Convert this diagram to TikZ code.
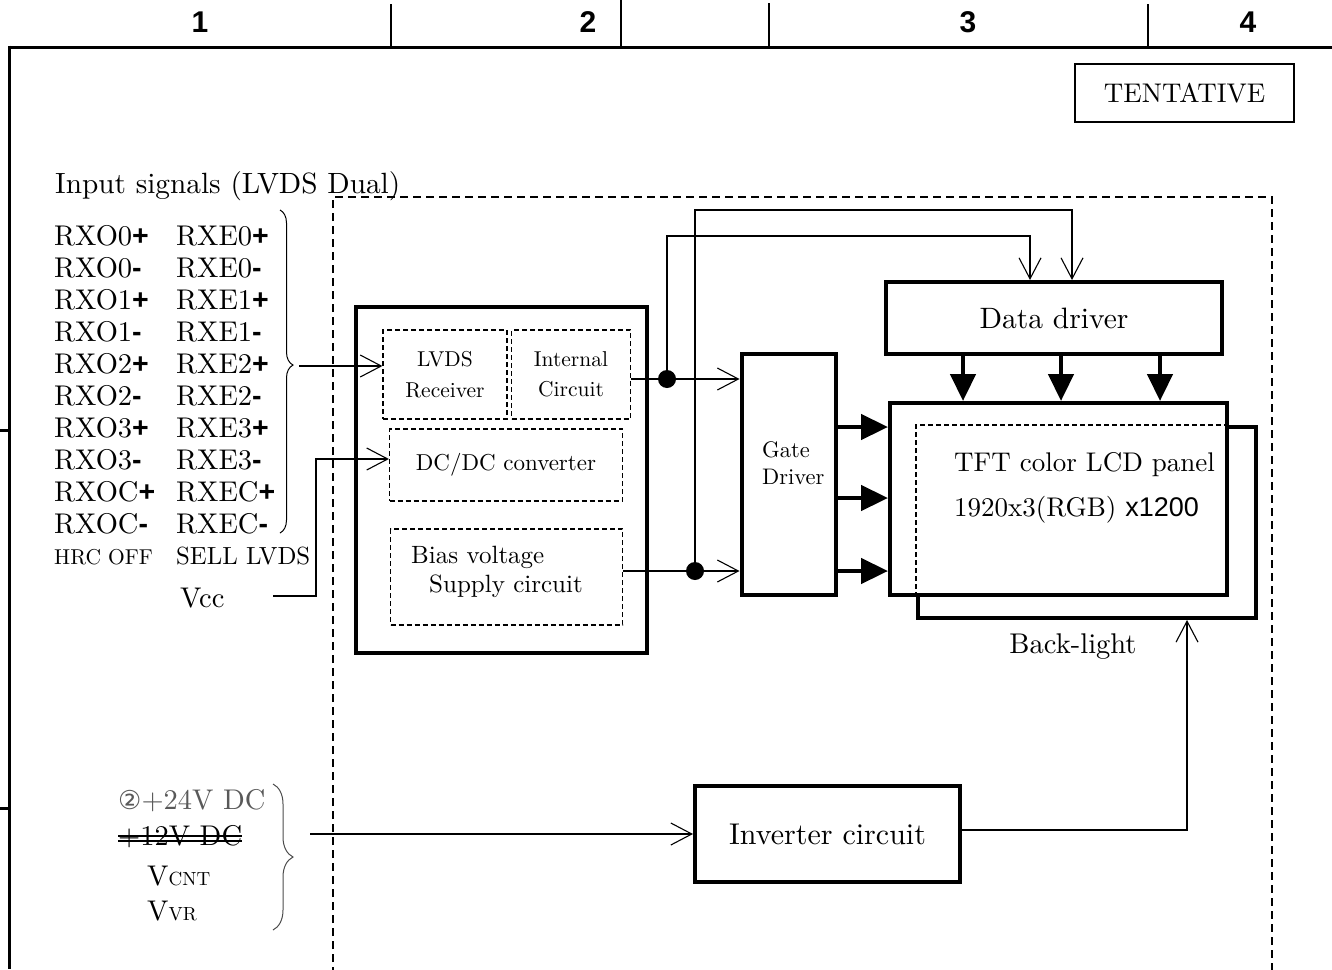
\documentclass[tikz,border=0pt]{standalone}
\usepackage{fontspec}
\setmainfont{lmroman10-regular.otf}[BoldFont=lmroman10-bold.otf, ItalicFont=lmroman10-italic.otf]
\newfontfamily\arial{Liberation Sans}
\newfontfamily\dejavu{DejaVu Sans}
\usetikzlibrary{arrows.meta,decorations.pathreplacing,calc}
\newcommand{\pp}{{\arial\bfseries +}}
\newcommand{\mm}{{\arial\bfseries -}}
\newcommand{\fs}[1]{\fontsize{#1}{#1}\selectfont}
\tikzset{
  sig/.style={anchor=base west, inner sep=0pt, font=\fs{28.5}},
  thickbox/.style={draw, line width=4pt, inner sep=0pt},
  dbox/.style={draw, line width=1.2pt, dash pattern=on 5pt off 3pt, inner sep=0pt},
  oarrow/.style={line width=1.1pt, -{Straight Barb[length=21pt,width=22pt]}},
  bigarrow/.style={line width=4.5pt, -{Triangle[length=27pt,width=25pt]}},
  wire/.style={line width=1.1pt},
  hdr/.style={font=\arial\bfseries\fs{30}, inner sep=0pt},
}
\begin{document}
\begin{tikzpicture}[x=1pt,y=-1pt]
\useasboundingbox (0,0) rectangle (1332,969);
% frame and header
\draw[line width=3pt] (8,47) -- (1332,47);
\draw[line width=3pt] (9,45.5) -- (9,969);
\draw[line width=3pt] (0,430) -- (9,430);
\draw[line width=3pt] (0,808) -- (9,808);
\draw[line width=2pt] (391,4) -- (391,47);
\draw[line width=2pt] (621,0) -- (621,47);
\draw[line width=2pt] (769,3) -- (769,47);
\draw[line width=2pt] (1148,4) -- (1148,47);
\node[hdr] (h1) at (200,22) {1};
\node[hdr] (h2) at (588,22) {2};
\node[hdr] (h3) at (968,22) {3};
\node[hdr] (h4) at (1248,22) {4};
% tentative
\node[draw, line width=1.6pt, minimum width=219pt, minimum height=58pt, font=\fs{27}] (tent) at (1184.5,93) {TENTATIVE};
% outer dashed
\draw[line width=1.6pt, dash pattern=on 8pt off 5pt] (333,975) -- (333,197) -- (1272,197) -- (1272,975);
% input signals
\node[sig, font=\fs{29.3}] (title) at (55,193) {Input signals (LVDS Dual)};
\node[sig] (o0p) at (54,245) {RXO0\pp};
\node[sig] (o0m) at (54,277) {RXO0\mm};
\node[sig] (o1p) at (54,309) {RXO1\pp};
\node[sig] (o1m) at (54,341) {RXO1\mm};
\node[sig] (o2p) at (54,373) {RXO2\pp};
\node[sig] (o2m) at (54,405) {RXO2\mm};
\node[sig] (o3p) at (54,437) {RXO3\pp};
\node[sig] (o3m) at (54,469) {RXO3\mm};
\node[sig] (ocp) at (54,501) {RXOC\pp};
\node[sig] (ocm) at (54,533) {RXOC\mm};
\node[sig] (e0p) at (176,245) {RXE0\pp};
\node[sig] (e0m) at (176,277) {RXE0\mm};
\node[sig] (e1p) at (176,309) {RXE1\pp};
\node[sig] (e1m) at (176,341) {RXE1\mm};
\node[sig] (e2p) at (176,373) {RXE2\pp};
\node[sig] (e2m) at (176,405) {RXE2\mm};
\node[sig] (e3p) at (176,437) {RXE3\pp};
\node[sig] (e3m) at (176,469) {RXE3\mm};
\node[sig] (ecp) at (176,501) {RXEC\pp};
\node[sig] (ecm) at (176,533) {RXEC\mm};
\node[sig, font=\fs{21.5}] (hrc) at (54,564) {HRC OFF};
\node[sig, font=\fs{24.8}] (sell) at (176,564) {SELL LVDS};
\node[sig] (vcc) at (180,607) {Vcc};
\draw[line width=1pt, decorate, decoration={brace, amplitude=13pt, aspect=0.48}] (280,210) -- (280,533);
\coordinate (sigtip) at (299,366);
\coordinate (vccend) at (273,596);
% main block
\node[thickbox, minimum width=291pt, minimum height=346pt] (main) at (501.5,480) {};
\node[dbox, minimum width=124pt, minimum height=89pt, align=center, font=\fontsize{21.5}{31}\selectfont] (lvds) at (445,374.5) {LVDS\\Receiver};
\node[dbox, minimum width=119pt, minimum height=89pt, align=center, font=\fontsize{21.5}{30}\selectfont] (intc) at (571,374.5) {Internal\\Circuit};
\node[dbox, minimum width=233pt, minimum height=72pt, font=\fs{23}] (dcdc) at (506,465) {DC/DC converter};
\node[dbox, minimum width=232pt, minimum height=96pt] (bias) at (506.5,577) {};
\node[sig, font=\fs{25}] (biasA) at (411,563) {Bias voltage};
\node[sig, font=\fs{25}] (biasB) at (429,592) {Supply circuit};
% gate driver
\node[thickbox, minimum width=94pt, minimum height=241pt] (gate) at (788.5,474.5) {};
\node[anchor=west, align=left, inner sep=0pt, font=\fontsize{22.5}{27}\selectfont] (gtxt) at (762,463) {Gate\\Driver};
% data driver
\node[thickbox, minimum width=336pt, minimum height=72pt, font=\fs{29.5}] (data) at (1054,318) {Data driver};
% back-light and panel
\node[thickbox, minimum width=338pt, minimum height=191pt] (back) at (1087,522.5) {};
\node[thickbox, fill=white, minimum width=337pt, minimum height=192pt] (panel) at (1058.5,499) {};
\draw[line width=1.2pt, dash pattern=on 5pt off 3pt] (back.west |- panel.south) -- (back.north west) -- (back.north west -| panel.east);
\node[sig, font=\fs{27}] (tft) at (954,471) {TFT color LCD panel};
\node[sig, font=\fs{27}] (res) at (954,516) {1920x3(RGB) {\arial x1200}};
\node[font=\fs{28.5}, inner sep=0pt] (bl) at (1073,647) {Back-light};
% inverter
\node[thickbox, minimum width=265pt, minimum height=96pt, font=\fs{30}] (inv) at (827.5,834) {Inverter circuit};
% power inputs
\node[sig, text=black!65] (p24) at (118,809) {{\dejavu\fs{26}②}+24V DC};
\node[sig] (p12) at (118,845) {+12V DC};
\draw[line width=1.3pt] (p12.west |- 0,836) -- (p12.east |- 0,836);
\draw[line width=1.3pt] (p12.west |- 0,841) -- (p12.east |- 0,841);
\node[sig] (vcnt) at (147,885) {V{\fs{19}CNT}};
\node[sig] (vvr) at (147,920) {V{\fs{19}VR}};
\draw[line width=1pt, draw=black!70, decorate, decoration={brace, amplitude=20pt, aspect=0.5}] (273,784) -- (273,930);
\coordinate (pwr) at (310,834);
% connectors
\draw[oarrow] (sigtip) -- (sigtip -| lvds.west);
\draw[oarrow] (vccend) -- (316,596) -- (316,459) -- (dcdc.west |- 0,459);
\coordinate (d1) at (667,379);
\coordinate (d2) at (695,571);
\draw[wire] (intc.east |- d1) -- (d1);
\draw[oarrow] (d1) -- (gate.west |- d1);
\draw[oarrow] (d1) -- (667,236) -- (1030,236) -- (data.north -| 1030,0);
\draw[wire] (bias.east |- d2) -- (d2);
\draw[oarrow] (d2) -- (gate.west |- d2);
\draw[oarrow] (d2) -- (695,210) -- (1072,210) -- (data.north -| 1072,0);
\fill (d1) circle (9pt);
\fill (d2) circle (9pt);
\draw[bigarrow] (gate.east |- 0,427) -- (panel.west |- 0,427);
\draw[bigarrow] (gate.east |- 0,498) -- (panel.west |- 0,498);
\draw[bigarrow] (gate.east |- 0,571) -- (panel.west |- 0,571);
\draw[bigarrow] (data.south -| 963,0) -- (panel.north -| 963,0);
\draw[bigarrow] (data.south -| 1061,0) -- (panel.north -| 1061,0);
\draw[bigarrow] (data.south -| 1160,0) -- (panel.north -| 1160,0);
\draw[oarrow] (inv.east |- 0,830) -- (1187,830) -- (back.south -| 1187,0);
\draw[oarrow] (pwr) -- (pwr -| inv.west);
\end{tikzpicture}
\end{document}
